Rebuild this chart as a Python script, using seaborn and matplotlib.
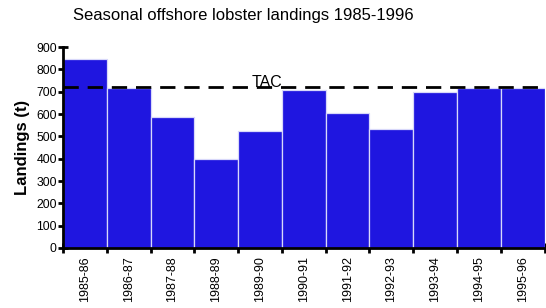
import matplotlib
matplotlib.use("Agg")
import matplotlib.pyplot as plt
import numpy as np
import pandas as pd
import seaborn as sns

# seasonal landings
seasons = ["1985-86", "1986-87", "1987-88", "1988-89", "1989-90", "1990-91",
           "1991-92", "1992-93", "1993-94", "1994-95", "1995-96"]
landings = [845, 715, 585, 400, 525, 708, 605, 535, 697, 717, 718]
tac = 720


def makePlot(df, outputName):
    sns.set_theme(style="white")
    plt.rcParams["font.family"] = ["Liberation Sans", "DejaVu Sans"]

    fig = plt.figure(figsize=(5.46, 3.08), dpi=100)
    ax = fig.add_axes([0.1154, 0.195, 0.882, 0.652])

    sns.barplot(x="season", y="landings", data=df, color="#1f16e0",
                saturation=1, width=1.0, edgecolor="#d8d8fa", linewidth=0.9,
                ax=ax)

    ax.axhline(tac, color="black", linestyle=(0, (5.5, 3.2)), linewidth=2,
               zorder=3)
    ax.text(4.16, tac - 12, "TAC", fontsize=11.5, ha="center", va="bottom",
            color="black", zorder=4)

    ax.set_xlim(-0.5, len(seasons) - 0.5)
    ax.set_ylim(0, 900)
    ax.set_yticks(np.arange(0, 901, 100))
    ax.tick_params(axis="y", left=True, direction="inout", length=7, width=2,
                   labelsize=8.8, colors="black", pad=1)
    ax.set_xticks(range(len(seasons)))
    ax.set_xticklabels(seasons, rotation=90, fontsize=9)
    ax.tick_params(axis="x", which="major", bottom=True, length=0, pad=6,
                   labelcolor="black")
    ax.set_xticks(np.arange(-0.5, len(seasons), 1.0), minor=True)
    ax.tick_params(axis="x", which="minor", bottom=True, direction="inout",
                   length=7, width=2, color="black")

    for side in ["top", "right"]:
        ax.spines[side].set_visible(False)
    for side in ["left", "bottom"]:
        ax.spines[side].set_color("black")
        ax.spines[side].set_linewidth(2)

    ax.set_xlabel("")
    ax.set_ylabel("Landings (t)", fontsize=12, fontweight="bold",
                  color="black")
    ax.yaxis.set_label_coords(-0.068, 0.5)
    fig.text(0.445, 0.95, "Seasonal offshore lobster landings 1985-1996",
             fontsize=12, ha="center", va="center", color="black")

    plt.savefig(outputName, dpi=100)
    plt.close()


def main():
    df = pd.DataFrame({"season": seasons, "landings": landings})
    makePlot(df, "out.png")


if __name__ == '__main__':
    main()
